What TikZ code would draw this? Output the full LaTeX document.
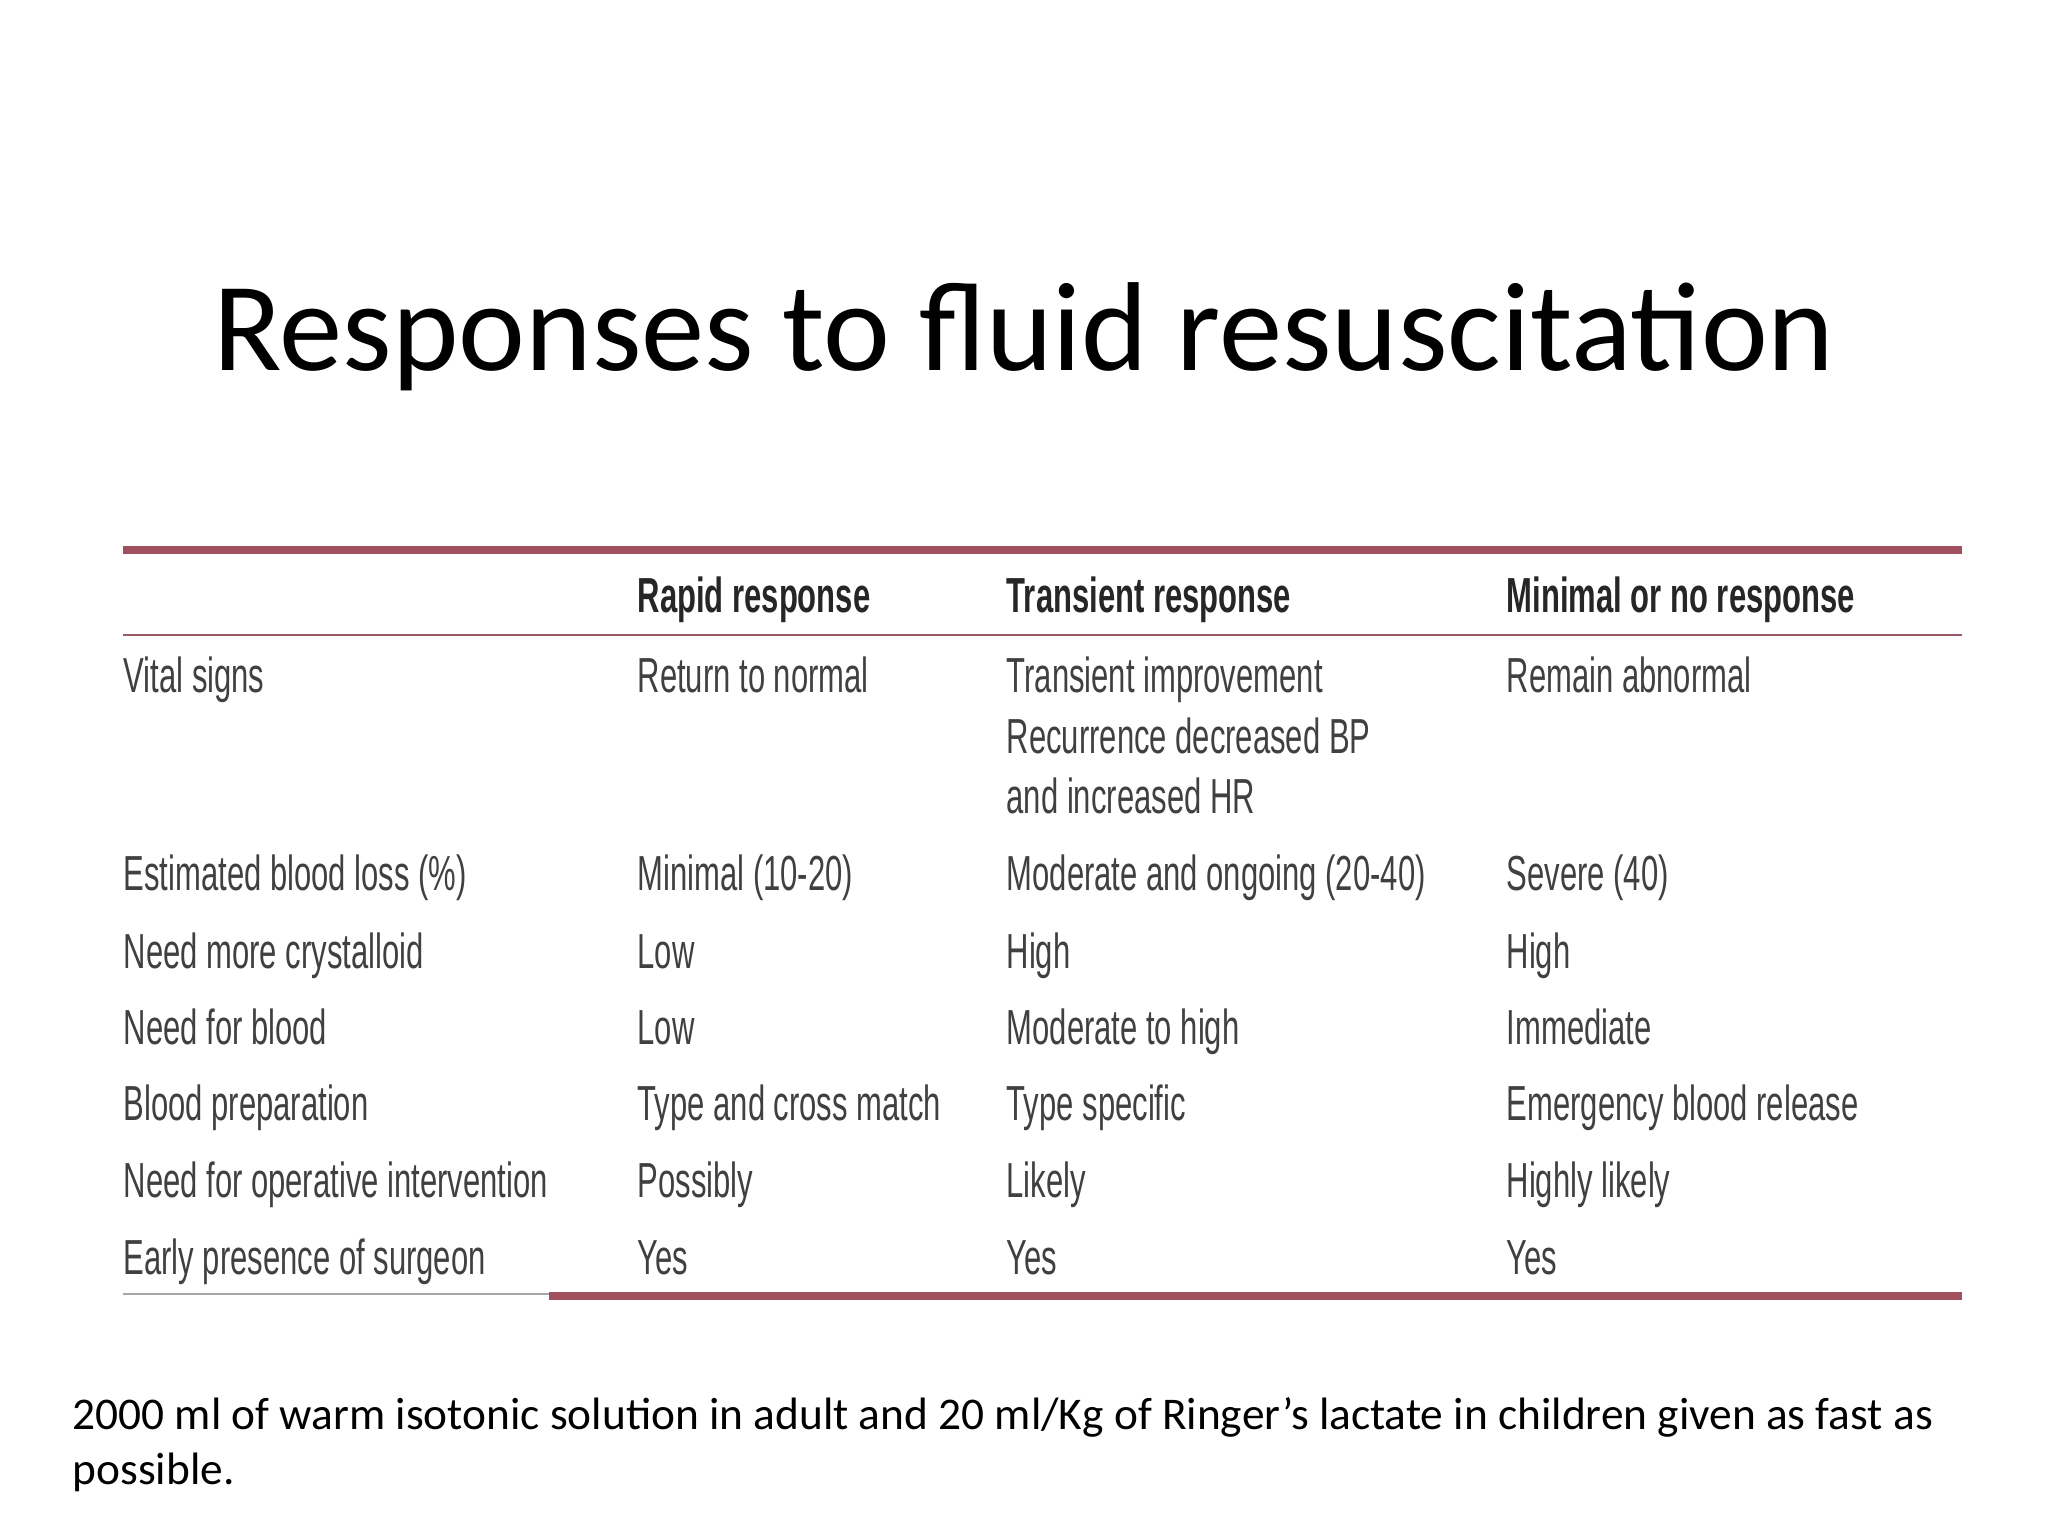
\documentclass[tikz,border=0pt]{standalone}
\usepackage{fontspec}
\setmainfont{Carlito}
\newfontfamily\tabfont[FakeStretch=0.63]{Liberation Sans}
\definecolor{rule}{HTML}{A0505E}
\definecolor{txt}{HTML}{404040}
\begin{document}
\begin{tikzpicture}[x=0.01cm,y=-0.01cm,
  cell/.style={anchor=base west,inner sep=0pt,text=txt,font=\tabfont\fontsize{14}{16}\selectfont},
  head/.style={cell,text=black!85,font=\tabfont\bfseries\fontsize{14}{16}\selectfont}]
\useasboundingbox (0,0) rectangle (2048,1536);
\fill[white] (0,0) rectangle (2048,1536);
\node[font=\fontsize{36}{44}\selectfont] (title) at (1024,337) {Responses to fluid resuscitation};
\coordinate (tl) at (123,550); \coordinate (tr) at (1962,550);
\draw[rule,line width=2.2pt] (tl) -- (tr);
\coordinate (hl) at (123,635); \coordinate (hr) at (1962,635);
\draw[rule!80!gray,line width=0.8pt] (hl) -- (hr);
\coordinate (bl) at (549,1296); \coordinate (br) at (1962,1296);
\draw[rule,line width=2.2pt] (bl) -- (br);
\coordinate (gl) at (123,1294); \coordinate (gr) at (549,1294);
\draw[gray!70,line width=0.8pt] (gl) -- (gr);
\node[head] (h1) at (637,612) {Rapid response};
\node[head] (h2) at (1006,612) {Transient response};
\node[head] (h3) at (1506,612) {Minimal or no response};
\node[cell] (a0) at (123,692) {Vital signs};
\node[cell] (a1) at (637,692) {Return to normal};
\node[cell] (a2) at (1006,692) {Transient improvement};
\node[cell] (a2b) at (1006,753) {Recurrence decreased BP};
\node[cell] (a2c) at (1006,813) {and increased HR};
\node[cell] (a3) at (1506,692) {Remain abnormal};
\node[cell] (b0) at (123,890) {Estimated blood loss (\%)};
\node[cell] (b1) at (637,890) {Minimal (10-20)};
\node[cell] (b2) at (1006,890) {Moderate and ongoing (20-40)};
\node[cell] (b3) at (1506,890) {Severe (40)};
\node[cell] (c0) at (123,968) {Need more crystalloid};
\node[cell] (c1) at (637,968) {Low};
\node[cell] (c2) at (1006,968) {High};
\node[cell] (c3) at (1506,968) {High};
\node[cell] (d0) at (123,1044) {Need for blood};
\node[cell] (d1) at (637,1044) {Low};
\node[cell] (d2) at (1006,1044) {Moderate to high};
\node[cell] (d3) at (1506,1044) {Immediate};
\node[cell] (e0) at (123,1120) {Blood preparation};
\node[cell] (e1) at (637,1120) {Type and cross match};
\node[cell] (e2) at (1006,1120) {Type specific};
\node[cell] (e3) at (1506,1120) {Emergency blood release};
\node[cell] (f0) at (123,1197) {Need for operative intervention};
\node[cell] (f1) at (637,1197) {Possibly};
\node[cell] (f2) at (1006,1197) {Likely};
\node[cell] (f3) at (1506,1197) {Highly likely};
\node[cell] (g0) at (123,1274) {Early presence of surgeon};
\node[cell] (g1) at (637,1274) {Yes};
\node[cell] (g2) at (1006,1274) {Yes};
\node[cell] (g3) at (1506,1274) {Yes};
\node[anchor=west,inner sep=0pt,font=\fontsize{12.9}{15}\selectfont] (n1) at (72,1417) {2000 ml of warm isotonic solution in adult and 20 ml/Kg of Ringer’s lactate in children given as fast as};
\node[anchor=west,inner sep=0pt,font=\fontsize{12.9}{15}\selectfont] (n2) at (72,1472) {possible.};
\end{tikzpicture}
\end{document}
